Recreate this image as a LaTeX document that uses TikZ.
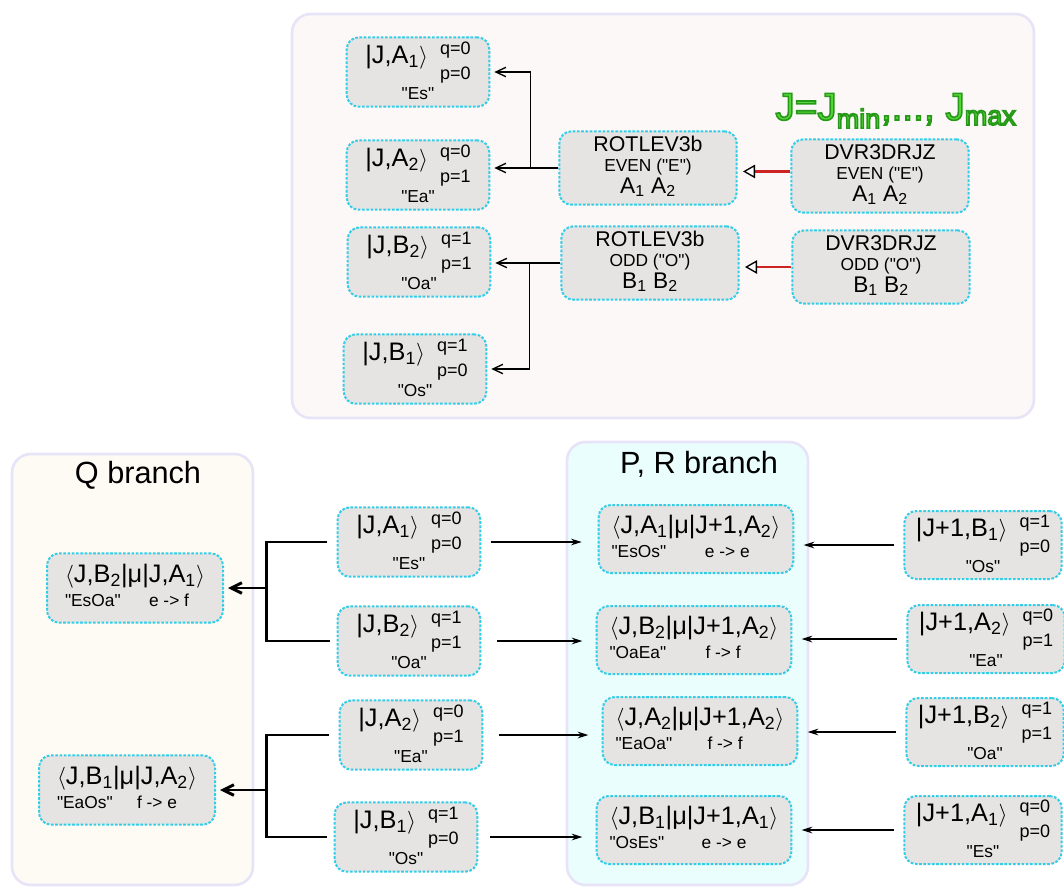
\documentclass[tikz,border=0pt]{standalone}
\usepackage{fontspec}
\setmainfont{Liberation Sans}[Ligatures=TeXOff]
\usepackage{tikz}
\usetikzlibrary{arrows.meta}

\definecolor{boxgray}{RGB}{230,227,227}
\definecolor{boxcyan}{RGB}{50,205,230}
\definecolor{panelline}{RGB}{232,228,248}
\definecolor{toppink}{RGB}{253,248,248}
\definecolor{qcream}{RGB}{253,251,243}
\definecolor{prcyan}{RGB}{234,254,254}
\definecolor{arrred}{RGB}{205,35,35}
\definecolor{jgreen}{RGB}{85,215,55}

\begin{document}
\begin{tikzpicture}[x=0.75pt,y=-0.75pt,
  panel/.style={draw=panelline, line width=2pt, rounded corners=14pt},
  statebox/.style={draw=boxcyan, fill=boxgray, line width=1.5pt, dash pattern=on 2pt off 1.2pt,
    rounded corners=9pt, inner sep=0pt, font=\fontsize{13}{14}\selectfont},
  ket/.style={statebox, minimum width=107pt, minimum height=52pt},
  ketp/.style={statebox, minimum width=118pt, minimum height=51pt},
  prog/.style={statebox, minimum width=133pt, minimum height=55pt, font=\fontsize{13}{15}\selectfont},
  qmat/.style={statebox, minimum width=132pt, minimum height=52pt},
  prmat/.style={statebox, minimum width=146pt, minimum height=51pt},
  title/.style={anchor=base, font=\fontsize{23}{25}\selectfont},
  tree/.style={-{Straight Barb[length=7.5pt, width=7pt]}, line width=1pt, shorten >=3pt},
  qtree/.style={line width=2.2pt},
  qarrow/.style={qtree, -{Straight Barb[length=8pt, width=8pt]}, shorten >=3pt},
  feed/.style={-{Stealth[length=8pt, width=5pt]}, line width=0.8pt},
  inp/.style={-{Triangle[open, fill=white, color=black, length=9pt, width=10pt, line width=1pt]},
    draw=arrred, line width=1.6pt, shorten >=4pt}
]
\def\ketlabel#1#2#3#4{\begin{tabular}{@{}c@{}}{\fontsize{19}{21}\selectfont|#1$\rangle$}\hspace{9pt}%
  \raisebox{-3pt}{\fontsize{13.5}{16}\selectfont\begin{tabular}{@{}l@{}}q=#2\\[3pt]p=#3\end{tabular}}\\[2pt]
  "#4"\end{tabular}}
\def\matlabel#1#2#3#4#5{\begin{tabular}{@{}l@{}}{\fontsize{19}{21}\selectfont$\langle$#1|μ|#2$\rangle$}\\[4pt]
  {\fontsize{13}{14}\selectfont\makebox[#5][l]{"#3"}#4}\end{tabular}}
\useasboundingbox (0,0) rectangle (1064,886);

% panels
\draw[panel, fill=toppink] (292,14) rectangle (1034,418);
\draw[panel, fill=qcream] (12,454) rectangle (253,885);
\draw[panel, fill=prcyan] (567,442) rectangle (808,885);

% top part
\node[anchor=base, text=jgreen, font=\fontsize{29}{30}\selectfont] (jrange) at (896,120)
  {\special{pdf:literal 2 Tr 1.2 w 0.15 0.6 0.1 RG}J=J\textsubscript{min},..., J\textsubscript{max}\special{pdf:literal 0 Tr}};

\node[ket] (ka1) at (418,72) {\ketlabel{J,A\textsubscript{1}}{0}{0}{Es}};
\node[ket] (ka2) at (418,175) {\ketlabel{J,A\textsubscript{2}}{0}{1}{Ea}};
\node[ket] (kb2) at (419,262) {\ketlabel{J,B\textsubscript{2}}{1}{1}{Oa}};
\node[ket] (kb1) at (415,369) {\ketlabel{J,B\textsubscript{1}}{1}{0}{Os}};

\node[prog] (rote) at (648,168) {\begin{tabular}{@{}c@{}}{\fontsize{16}{17}\selectfont ROTLEV3b}\\
  EVEN ("E")\\{\fontsize{17}{18}\selectfont A\textsubscript{1} A\textsubscript{2}}\end{tabular}};
\node[prog] (roto) at (650,263) {\begin{tabular}{@{}c@{}}{\fontsize{16}{17}\selectfont ROTLEV3b}\\
  ODD ("O")\\{\fontsize{17}{18}\selectfont B\textsubscript{1} B\textsubscript{2}}\end{tabular}};
\node[prog] (dvre) at (880,176) {\begin{tabular}{@{}c@{}}{\fontsize{16}{17}\selectfont DVR3DRJZ}\\
  EVEN ("E")\\{\fontsize{17}{18}\selectfont A\textsubscript{1} A\textsubscript{2}}\end{tabular}};
\node[prog] (dvro) at (881,267) {\begin{tabular}{@{}c@{}}{\fontsize{16}{17}\selectfont DVR3DRJZ}\\
  ODD ("O")\\{\fontsize{17}{18}\selectfont B\textsubscript{1} B\textsubscript{2}}\end{tabular}};

\draw[inp] ([yshift=3.4pt]dvre.west) -- ([yshift=3.4pt]dvre.west -| rote.east);
\draw[inp] (dvro.west) -- (dvro.west -| roto.east);

\draw[tree] (rote.west) -- (rote.west -| ka2.east);
\draw[tree] (rote.west) ++(-28,0) |- (ka1.east);
\draw[tree] (roto.west) -- (roto.west -| kb2.east);
\draw[tree] (roto.west) ++(-31,0) |- (kb1.east);

% Q branch
\node[title] (qtitle) at (138,483) {Q branch};
\node[qmat] (esoa) at (135,588) {\matlabel{J,B\textsubscript{2}}{J,A\textsubscript{1}}{EsOa}{e -> f}{63pt}};
\node[qmat] (eaos) at (127,790) {\matlabel{J,B\textsubscript{1}}{J,A\textsubscript{2}}{EaOs}{f -> e}{60pt}};

\node[ket] (qa1) at (409,542) {\ketlabel{J,A\textsubscript{1}}{0}{0}{Es}};
\node[ket] (qb2) at (409,641) {\ketlabel{J,B\textsubscript{2}}{1}{1}{Oa}};
\node[ket] (qa2) at (411,735) {\ketlabel{J,A\textsubscript{2}}{0}{1}{Ea}};
\node[ket] (qb1) at (406,837) {\ketlabel{J,B\textsubscript{1}}{1}{0}{Os}};

\draw[qtree, shorten <=7pt, shorten >=5pt] (qa1.west) -- ++(-70,0) coordinate (qj1) |- (qb2.west);
\draw[qarrow] (qj1 |- esoa.east) -- (esoa.east);
\draw[qtree, shorten <=7pt, shorten >=5pt] (qa2.west) -- ++(-72,0) coordinate (qj2) |- (qb1.west);
\draw[qarrow] (qj2 |- eaos.east) -- (eaos.east);

% P, R branch
\node[title] (prtitle) at (699,473) {P, R branch};
\node[prmat] (esos) at (696,539) {\matlabel{J,A\textsubscript{1}}{J+1,A\textsubscript{2}}{EsOs}{e -> e}{70pt}};
\node[prmat] (oaea) at (694,640) {\matlabel{J,B\textsubscript{2}}{J+1,A\textsubscript{2}}{OaEa}{f -> f}{72pt}};
\node[prmat] (eaoa) at (700,731) {\matlabel{J,A\textsubscript{2}}{J+1,A\textsubscript{2}}{EaOa}{f -> f}{69pt}};
\node[prmat] (oses) at (694,830) {\matlabel{J,B\textsubscript{1}}{J+1,A\textsubscript{1}}{OsEs}{e -> e}{69pt}};

\node[ketp] (pb1) at (983,545) {\ketlabel{J+1,B\textsubscript{1}}{1}{0}{Os}};
\node[ketp] (pa2) at (986,639) {\ketlabel{J+1,A\textsubscript{2}}{0}{1}{Ea}};
\node[ketp] (pb2) at (985,732) {\ketlabel{J+1,B\textsubscript{2}}{1}{1}{Oa}};
\node[ketp] (pa1) at (983,830) {\ketlabel{J+1,A\textsubscript{1}}{0}{0}{Es}};

\draw[feed, shorten <=7pt, shorten >=12pt] (qa1.east) -- (qa1.east -| esos.west);
\draw[feed, shorten <=12pt, shorten >=10pt] (qb2.east) -- (qb2.east -| oaea.west);
\draw[feed, shorten <=12pt, shorten >=10pt] (qa2.east) -- (qa2.east -| eaoa.west);
\draw[feed, shorten <=9pt, shorten >=10pt] (qb1.east) -- (qb1.east -| oses.west);

\draw[feed, shorten <=7pt, shorten >=7pt] (pb1.west) -- (pb1.west -| esos.east);
\draw[feed, shorten <=7pt, shorten >=7pt] (pa2.west) -- (pa2.west -| oaea.east);
\draw[feed, shorten <=7pt, shorten >=7pt] (pb2.west) -- (pb2.west -| eaoa.east);
\draw[feed, shorten <=7pt, shorten >=7pt] (pa1.west) -- (pa1.west -| oses.east);
\end{tikzpicture}
\end{document}
